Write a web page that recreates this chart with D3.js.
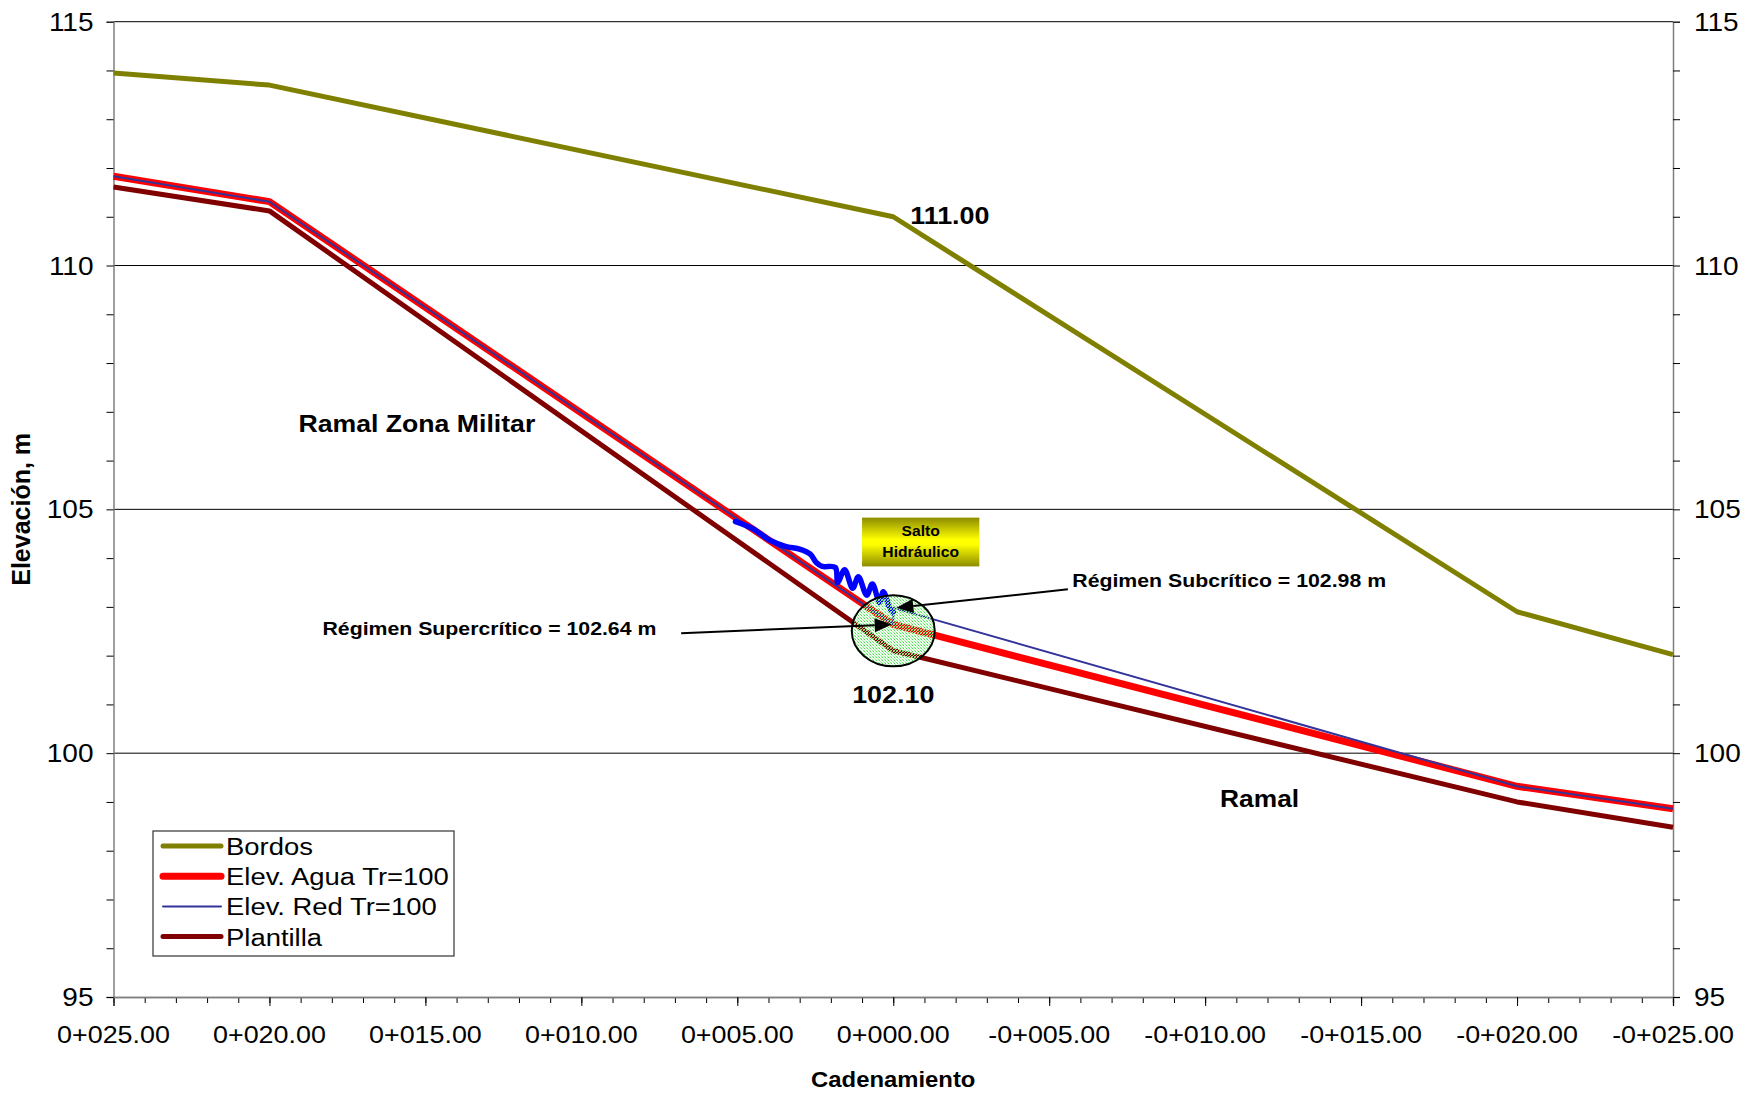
<!DOCTYPE html>
<html><head><meta charset="utf-8">
<script src="https://cdn.jsdelivr.net/npm/d3@7"></script>
<style>body{margin:0;background:#fff}svg{display:block}text{font-family:"Liberation Sans",Arial,sans-serif}</style>
</head><body>
<svg id="c" width="1756" height="1093"></svg>
<script>
// ---- data ----
const stations = [25, 20, 0, -20, -25];
const bordos = [113.95, 113.70, 111.00, 102.90, 102.02];
const aguaTr100 = [111.83, 111.31, 102.64, 99.32, 98.86];
const redStations = [25, 20, 0, 0, -20, -25];
const redTr100 = [111.83, 111.31, 102.64, 102.98, 99.32, 98.86];
const plantilla = [111.61, 111.12, 102.10, 99.00, 98.48];
const xMajorTicks = [25, 20, 15, 10, 5, 0, -5, -10, -15, -20, -25];
const xTickLabels = ["0+025.00","0+020.00","0+015.00","0+010.00","0+005.00","0+000.00","-0+005.00","-0+010.00","-0+015.00","-0+020.00","-0+025.00"];
const yMajorTicks = [95, 100, 105, 110, 115];
const yTickLabels = ["95","100","105","110","115"];
const seriesNames = ["Bordos","Elev. Agua Tr=100","Elev. Red Tr=100","Plantilla"];
// hydraulic jump squiggle (station, elevation)
const saltoX = [5.06,4.52,3.94,3.46,2.98,2.66,2.47,2.28,1.86,1.78,1.56,1.30,1.12,0.85,0.67,0.44,0.32,0.10,0.00];
const saltoY = [104.75,104.61,104.36,104.24,104.18,104.08,103.91,103.83,103.81,103.50,103.76,103.38,103.62,103.24,103.47,103.09,103.31,102.96,102.89];

// ---- layout ----
const svg = d3.select("#c");
const L = 113.5, R = 1673, T = 21.7, B = 997;
const SX = 1.12;
const x = d3.scaleLinear().domain([25, -25]).range([L, R]);
const y = d3.scaleLinear().domain([95, 115]).range([B, T]);

function stext(g, px, py, str, o) {
  o = o || {};
  return g.append("text")
    .attr("transform", `translate(${px},${py}) scale(${SX},1)`)
    .attr("text-anchor", o.anchor || "start")
    .attr("font-size", o.size || 23)
    .attr("font-weight", o.weight || "normal")
    .attr("fill", o.fill || "#000")
    .text(str);
}

const defs = svg.append("defs");
const pat = defs.append("pattern").attr("id","dots").attr("patternUnits","userSpaceOnUse")
  .attr("width",3).attr("height",3);
pat.append("rect").attr("x",0).attr("y",0).attr("width",1).attr("height",1).attr("fill","#33cc33");
pat.append("rect").attr("x",1).attr("y",1).attr("width",1).attr("height",1).attr("fill","#99ff99");
pat.append("rect").attr("x",2).attr("y",2).attr("width",1).attr("height",1).attr("fill","#66ee66");
pat.append("rect").attr("x",2).attr("y",0).attr("width",1).attr("height",1).attr("fill","#ccffcc");
pat.append("rect").attr("x",0).attr("y",2).attr("width",1).attr("height",1).attr("fill","#ccffcc");
const grad = defs.append("linearGradient").attr("id","yel").attr("x1",0).attr("y1",0).attr("x2",0).attr("y2",1);
grad.append("stop").attr("offset","0%").attr("stop-color","#8c8c00");
grad.append("stop").attr("offset","45%").attr("stop-color","#ffff00");
grad.append("stop").attr("offset","55%").attr("stop-color","#ffff00");
grad.append("stop").attr("offset","100%").attr("stop-color","#8c8c00");

// gridlines
svg.append("g").selectAll("line").data(yMajorTicks.filter(v => v > 95)).join("line")
  .attr("x1", L).attr("x2", R).attr("y1", d => y(d)).attr("y2", d => y(d))
  .attr("stroke", "#000").attr("stroke-width", 1);

// axes
const minorX = d3.range(-25, 26, 1);
const minorY = d3.range(95, 116, 1);
const gx = svg.append("g").attr("transform", `translate(0,${B})`);
gx.call(d3.axisBottom(x).tickValues(minorX).tickSize(6).tickFormat(""));
gx.append("g").call(d3.axisBottom(x).tickValues(xMajorTicks).tickSize(9).tickFormat(""));
gx.selectAll(".domain").attr("stroke", "#808080").attr("stroke-width", 1.5);
const gyl = svg.append("g").attr("transform", `translate(${L},0)`);
gyl.call(d3.axisLeft(y).tickValues(minorY).tickSize(7).tickFormat(""));
gyl.select(".domain").attr("stroke", "#808080").attr("stroke-width", 1.5);
const gyr = svg.append("g").attr("transform", `translate(${R},0)`);
gyr.call(d3.axisRight(y).tickValues(minorY).tickSize(7).tickFormat(""));
gyr.select(".domain").attr("stroke", "#808080").attr("stroke-width", 1.5);
svg.selectAll(".tick line").attr("stroke", "#000");

// tick labels
const lab = svg.append("g");
xMajorTicks.forEach((v, i) => stext(lab, x(v), B + 46, xTickLabels[i], {anchor: "middle", size: 24}));
yMajorTicks.forEach((v, i) => {
  stext(lab, L - 20, y(v) + 9, yTickLabels[i], {anchor: "end", size: 25});
  stext(lab, R + 21, y(v) + 9, yTickLabels[i], {anchor: "start", size: 25});
});
// axis titles
stext(lab, (L + R) / 2, 1087, "Cadenamiento", {anchor: "middle", size: 21.3, weight: "bold"});
lab.append("text").attr("transform", `translate(30,${(T + B) / 2}) rotate(-90)`)
  .attr("text-anchor", "middle").attr("font-size", 25).attr("font-weight", "bold").text("Elevación, m");

// series
const line = d3.line().x(d => x(d[0])).y(d => y(d[1]));
const zip = (xs, ys) => xs.map((v, i) => [v, ys[i]]);
const series = [
  {name: seriesNames[0], pts: zip(stations, bordos), color: "#808000", w: 5},
  {name: seriesNames[1], pts: zip(stations, aguaTr100), color: "#ff0000", w: 7},
  {name: seriesNames[2], pts: zip(redStations, redTr100), color: "#333399", w: 2},
  {name: seriesNames[3], pts: zip(stations, plantilla), color: "#800000", w: 5}
];
const sg = svg.append("g");
series.forEach(s => sg.append("path").attr("d", line(s.pts)).attr("fill", "none")
  .attr("stroke", s.color).attr("stroke-width", s.w).attr("stroke-linejoin", "round"));

// hydraulic jump squiggle
const ann = svg.append("g");
ann.append("path").attr("d", d3.line().curve(d3.curveCatmullRom.alpha(0.5)).x(d => x(d[0])).y(d => y(d[1]))(zip(saltoX, saltoY)))
  .attr("fill", "none").attr("stroke", "#0000ff").attr("stroke-width", 5.5).attr("stroke-linecap", "round").attr("stroke-linejoin", "round");

// ellipse
ann.append("ellipse").attr("cx", x(0)).attr("cy", y(102.51))
  .attr("rx", x(0) - x(1.33)).attr("ry", y(102.51 - 0.73) - y(102.51))
  .attr("fill", "url(#dots)").attr("fill-opacity", 0.85).attr("stroke", "#000").attr("stroke-width", 2);

// arrows
function arrow(x0, y0, x1, y1) {
  const a = Math.atan2(y1 - y0, x1 - x0), len = 17, hw = 7;
  const bx = x1 - len * Math.cos(a), by = y1 - len * Math.sin(a);
  ann.append("line").attr("x1", x0).attr("y1", y0).attr("x2", bx).attr("y2", by).attr("stroke", "#000").attr("stroke-width", 2);
  ann.append("path").attr("d", `M${x1},${y1}L${bx + hw * Math.sin(a)},${by - hw * Math.cos(a)}L${bx - hw * Math.sin(a)},${by + hw * Math.cos(a)}Z`).attr("fill", "#000");
}
arrow(x(6.8), y(102.46), x(0.05), y(102.64));
arrow(x(-5.6), y(103.36), x(-0.1), y(102.98));

// Salto box
const bx0 = x(1.0), bx1 = x(-2.76), by0 = y(104.83), by1 = y(103.83);
ann.append("rect").attr("x", bx0).attr("y", by0).attr("width", bx1 - bx0).attr("height", by1 - by0).attr("fill", "url(#yel)");
stext(ann, (bx0 + bx1) / 2, by0 + 18, "Salto", {anchor: "middle", size: 14, weight: "bold"});
stext(ann, (bx0 + bx1) / 2, by0 + 39, "Hidráulico", {anchor: "middle", size: 14, weight: "bold"});

// text annotations
stext(ann, x(18.3), y(102.42), "Régimen Supercrítico = 102.64 m", {size: 19, weight: "bold"});
stext(ann, x(-5.74), y(103.40), "Régimen Subcrítico = 102.98 m", {size: 19, weight: "bold"});
stext(ann, x(0) + 17, y(111.0) + 7, "111.00", {size: 24, weight: "bold"});
stext(ann, x(0), y(102.10) + 52, "102.10", {anchor: "middle", size: 24, weight: "bold"});
stext(ann, x(19.07), y(106.58), "Ramal Zona Militar", {size: 23.8, weight: "bold"});
stext(ann, x(-10.48), y(98.86) - 2, "Ramal", {size: 23.5, weight: "bold"});

// legend
const lg = svg.append("g");
lg.append("rect").attr("x", 153).attr("y", 831).attr("width", 301).attr("height", 125)
  .attr("fill", "#fff").attr("stroke", "#333").attr("stroke-width", 1.2);
series.forEach((s, i) => {
  const cy = 846 + i * 30.2;
  lg.append("line").attr("x1", 163).attr("x2", 221).attr("y1", cy).attr("y2", cy)
    .attr("stroke", s.color).attr("stroke-width", s.w).attr("stroke-linecap", "round");
  stext(lg, 226, cy + 9, s.name, {size: 24.5});
});
</script>
</body></html>
